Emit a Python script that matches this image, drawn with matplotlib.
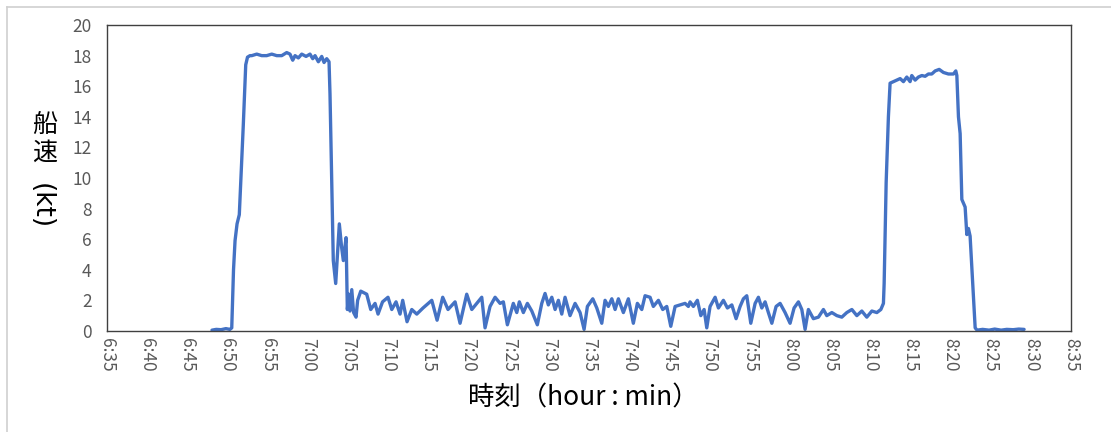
import matplotlib
matplotlib.use("Agg")
import matplotlib.pyplot as plt
from matplotlib.lines import Line2D

plt.rcParams['font.family'] = ['Noto Sans CJK JP', 'DejaVu Sans']

# time in minutes after 6:00, speed in knots
minutes = [
    48.07, 48.6, 49.2, 49.8, 50.3, 50.53,
    50.75, 50.94, 51.19, 51.47, 51.97, 52.27, 52.49, 52.8,
    53.02, 53.64, 54.26, 54.88, 55.51, 56.13, 56.75, 57.37, 57.78, 58.12,
    58.41, 58.82, 59.24, 59.78, 60.27, 60.61, 60.9, 61.31, 61.73, 62.02,
    62.35, 62.64,
    62.76, 63.17, 63.47, 63.92, 64.2, 64.42, 64.76, 64.92,
    65.1, 65.25, 65.47, 65.7, 66.0, 66.2, 66.59, 67.33, 67.83, 68.37,
    68.74, 69.3, 69.98, 70.45, 70.98, 71.48, 71.81, 72.35, 72.94, 73.56,
    74.34, 75.43, 76.09, 76.79, 77.45, 78.33, 78.95, 79.78, 80.41, 81.03,
    81.65, 82.06, 82.68, 83.31, 83.93, 84.34, 84.84, 85.58, 86.01, 86.33,
    86.83, 87.33, 87.88, 88.57, 89.12, 89.53, 89.94, 90.37, 90.78, 91.19,
    91.61, 92.02, 92.64, 93.27, 93.89, 94.39, 94.8, 95.47, 95.97, 96.59,
    97.0, 97.41, 97.84, 98.25, 98.66, 99.28, 99.9, 100.52, 101.02, 101.57,
    101.98, 102.6, 103.01, 103.64, 104.18, 104.68, 105.18, 105.72, 106.34, 106.96,
    107.37, 107.58, 107.99, 108.49, 108.92, 109.33, 109.66, 110.07, 110.7, 111.11,
    111.73, 112.23, 112.78, 113.31, 113.81, 114.22, 114.64, 115.14, 115.68, 116.09,
    116.51, 116.92, 117.33, 117.76, 118.29, 118.79, 119.41, 120.03, 120.53, 121.07,
    121.49, 121.9, 122.31, 122.93, 123.56, 124.18, 124.6, 125.23, 125.85, 126.47,
    127.09, 127.72, 128.34, 128.96, 129.58, 130.21, 130.83, 131.33,
    131.65, 131.74, 131.99, 132.27, 132.48, 132.9,
    133.32, 133.73, 134.14, 134.56, 134.97, 135.18, 135.6, 136.0, 136.43, 136.84,
    137.25, 137.67, 138.09, 138.59, 139.12, 139.74, 140.37, 140.66, 140.79,
    140.99, 141.2, 141.41, 141.82, 142.03, 142.23, 142.44, 143.07, 143.31,
    144.0, 144.8, 145.5, 146.3, 147.0, 147.8, 148.5, 149.16,
]

speed = [
    0.05, 0.1, 0.08, 0.15, 0.1, 0.2,
    4.0, 5.9, 7.0, 7.6, 13.5, 17.4, 17.9, 18.0,
    18.0, 18.1, 18.0, 18.0, 18.1, 18.0, 18.0, 18.2, 18.1, 17.7,
    18.0, 17.85, 18.1, 17.95, 18.1, 17.8, 18.0, 17.6, 17.95, 17.55,
    17.8, 17.6,
    15.5, 4.6, 3.1, 7.0, 5.5, 4.6, 6.1, 1.4,
    2.4, 1.3, 2.7, 1.2, 0.9, 2.0, 2.6, 2.4, 1.4, 1.8,
    1.1, 1.9, 2.2, 1.4, 1.9, 1.1, 2.0, 0.6, 1.4, 1.1,
    1.5, 2.0, 0.7, 2.2, 1.4, 1.9, 0.5, 2.4, 1.4, 1.8,
    2.2, 0.2, 1.6, 2.2, 1.8, 1.9, 0.4, 1.8, 1.2, 1.9,
    1.2, 1.8, 1.3, 0.4, 1.8, 2.45, 1.7, 2.2, 1.4, 2.0,
    1.1, 2.2, 1.0, 1.8, 1.2, 0.1, 1.6, 2.1, 1.5, 0.5,
    2.0, 1.6, 2.1, 1.4, 2.1, 1.2, 2.1, 0.5, 1.8, 1.4,
    2.3, 2.2, 1.6, 2.0, 1.4, 1.6, 0.3, 1.6, 1.7, 1.8,
    1.6, 1.9, 1.6, 2.0, 1.0, 1.4, 0.2, 1.6, 2.2, 1.5,
    2.0, 1.5, 1.7, 0.8, 1.6, 2.1, 2.3, 0.5, 1.8, 2.2,
    1.5, 1.9, 1.2, 0.5, 1.6, 1.8, 1.2, 0.5, 1.5, 1.9,
    1.4, 0.1, 1.4, 0.8, 0.9, 1.4, 1.0, 1.2, 1.0, 0.9,
    1.2, 1.4, 1.0, 1.3, 0.9, 1.3, 1.2, 1.4,
    1.8, 3.1, 9.7, 14.0, 16.2, 16.3,
    16.4, 16.5, 16.3, 16.6, 16.3, 16.7, 16.4, 16.6, 16.7, 16.65,
    16.8, 16.8, 17.0, 17.1, 16.9, 16.8, 16.8, 17.0, 16.7,
    14.0, 12.9, 8.6, 8.1, 6.3, 6.7, 6.2, 0.2, 0.05,
    0.1, 0.05, 0.12, 0.05, 0.1, 0.08, 0.12, 0.1,
]

tick_minutes = list(range(35, 156, 5))
tick_labels = ["%d:%02d" % (6 + m // 60, m % 60) for m in tick_minutes]
y_ticks = list(range(0, 21, 2))

fig = plt.figure(figsize=(11.11, 4.32), dpi=100)
ax = fig.add_axes([0.0963, 0.234, 0.8677, 0.708])

ax.plot(minutes, speed, color='#4472C4', linewidth=2.4,
        solid_joinstyle='round', solid_capstyle='round')

ax.set_xlim(35, 155)
ax.set_ylim(0, 20)
ax.set_xticks(tick_minutes)
ax.set_xticklabels(tick_labels, rotation=270, fontsize=12.5, color='#595959')
ax.set_yticks(y_ticks)
ax.set_yticklabels([str(v) for v in y_ticks], fontsize=12.5, color='#595959')
ax.tick_params(axis='x', length=0, pad=5)
ax.tick_params(axis='y', length=0, pad=11)

for s in ax.spines.values():
    s.set_color('#404040')
    s.set_linewidth(1.0)

# axis titles (vertical Japanese style on the y side)
fig.text(583 / 1111, 1 - 398 / 432, '時刻（hour : min）', fontsize=19,
         ha='center', va='center', color='#000000')
fig.text(45 / 1111, 1 - 125 / 432, '船', fontsize=18, ha='center', va='center')
fig.text(45 / 1111, 1 - 153 / 432, '速', fontsize=18, ha='center', va='center')
fig.text(44 / 1111, 1 - 206 / 432, '(kt)', fontsize=19, rotation=270,
         rotation_mode='anchor', ha='center', va='center_baseline',
         family='DejaVu Sans')

# light outer frame of the chart area
fig.add_artist(Line2D([7 / 1111, 1], [1 - 7 / 432, 1 - 7 / 432],
                      color='#d0d0d0', linewidth=1.2))
fig.add_artist(Line2D([7 / 1111, 7 / 1111], [0, 1 - 7 / 432],
                      color='#d0d0d0', linewidth=1.2))

fig.savefig('out.png', dpi=100)
